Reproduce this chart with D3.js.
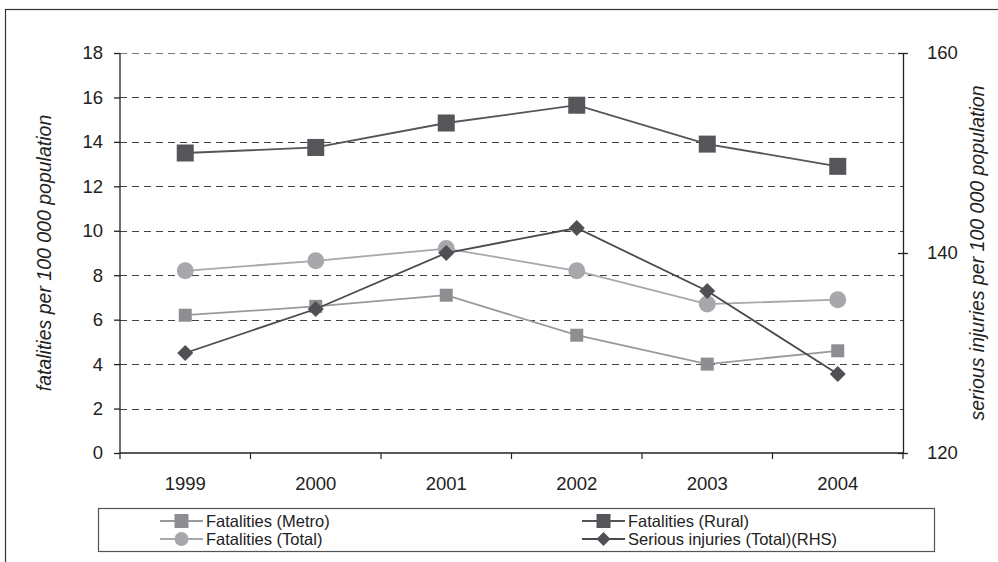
<!DOCTYPE html>
<html>
<head>
<meta charset="utf-8">
<script src="https://cdn.jsdelivr.net/npm/d3@7"></script>
<style>
  body { margin: 0; background: #fff; }
  svg { display: block; font-family: "Liberation Sans", Arial, sans-serif; }
</style>
</head>
<body>
<svg id="chart" width="998" height="562"></svg>
<script>
const years = ["1999", "2000", "2001", "2002", "2003", "2004"];
const fatalitiesMetro = [6.2, 6.6, 7.1, 5.3, 4.0, 4.6];
const fatalitiesRural = [13.5, 13.75, 14.85, 15.65, 13.9, 12.9];
const fatalitiesTotal = [8.2, 8.65, 9.2, 8.2, 6.7, 6.9];
const seriousInjuries = [130.0, 134.4, 140.0, 142.5, 136.2, 127.9];
const leftTicks = [0, 2, 4, 6, 8, 10, 12, 14, 16, 18];
const rightTicks = [120, 140, 160];

const svg = d3.select("#chart");
const L = 120, R = 903, T = 53, B = 453;
const FS = 18.5;

// outer frame
svg.append("rect").attr("x", 5.5).attr("y", 9.5).attr("width", 1000).attr("height", 600)
  .attr("fill", "none").attr("stroke", "#333").attr("stroke-width", 1.2);

const x = d3.scaleBand().domain(years).range([L, R]);
const yL = d3.scaleLinear().domain([0, 18]).range([B, T]);
const yR = d3.scaleLinear().domain([120, 160]).range([B, T]);

// gridlines
svg.append("g").selectAll("line").data(leftTicks.filter(d => d > 0)).join("line")
  .attr("x1", L).attr("x2", R)
  .attr("y1", d => Math.round(yL(d)) + 0.5).attr("y2", d => Math.round(yL(d)) + 0.5)
  .attr("stroke", d => d === 18 ? "#777" : "#444").attr("stroke-width", 1.2)
  .attr("stroke-dasharray", "7,5");

// left axis
const gL = svg.append("g").attr("transform", `translate(${L},0)`)
  .call(d3.axisLeft(yL).tickValues(leftTicks).tickSize(6).tickPadding(11).tickFormat(d3.format("d")));
gL.selectAll("path,line").attr("stroke", "#222").attr("stroke-width", 1.3);
gL.select(".domain").attr("d", `M0,${T}V${B}`);
gL.selectAll("text").attr("font-size", FS).attr("fill", "#222").attr("font-family", "Liberation Sans, Arial, sans-serif");

// right axis
const gR = svg.append("g").attr("transform", `translate(${R},0)`)
  .call(d3.axisRight(yR).tickValues(rightTicks).tickSizeInner(5).tickSizeOuter(0).tickPadding(19).tickFormat(d3.format("d")));
gR.selectAll("path,line").attr("stroke", "#222").attr("stroke-width", 1.3);
gR.selectAll(".tick line").attr("x1", -5).attr("x2", 5);
gR.selectAll("text").attr("font-size", FS).attr("fill", "#222").attr("font-family", "Liberation Sans, Arial, sans-serif");

// bottom axis
const gB = svg.append("g").attr("transform", `translate(0,${B})`);
gB.append("line").attr("x1", L).attr("x2", R).attr("y1", 0).attr("y2", 0).attr("stroke", "#222").attr("stroke-width", 1.5);
gB.selectAll(".bt").data(years).join("line").attr("class", "bt")
  .attr("x1", d => x(d)).attr("x2", d => x(d)).attr("y1", 0).attr("y2", 6)
  .attr("stroke", "#222").attr("stroke-width", 1.2);
gB.append("line").attr("x1", R).attr("x2", R).attr("y1", 0).attr("y2", 6).attr("stroke", "#222").attr("stroke-width", 1.2);
gB.selectAll("text").data(years).join("text")
  .attr("x", d => x(d) + x.bandwidth() / 2).attr("y", 37)
  .attr("text-anchor", "middle").attr("font-size", FS).attr("fill", "#222").text(d => d);

// axis titles
svg.append("text").attr("transform", `translate(51,${(T + B) / 2}) rotate(-90)`)
  .attr("text-anchor", "middle").attr("font-size", 19.5).attr("font-style", "italic").attr("fill", "#222")
  .text("fatalities per 100 000 population");
svg.append("text").attr("transform", `translate(984,${(T + B) / 2}) rotate(-90)`)
  .attr("text-anchor", "middle").attr("font-size", 19.5).attr("font-style", "italic").attr("fill", "#222")
  .text("serious injuries per 100 000 population");

const cx = d => x(d) + x.bandwidth() / 2;

const series = [
  { name: "Fatalities (Metro)", values: fatalitiesMetro, scale: yL, line: "#9a9a9e", fill: "#8e8e92", shape: "square", size: 13 },
  { name: "Fatalities (Rural)", values: fatalitiesRural, scale: yL, line: "#555558", fill: "#55555a", shape: "square", size: 17 },
  { name: "Fatalities (Total)", values: fatalitiesTotal, scale: yL, line: "#a8a8ac", fill: "#a8a8ac", shape: "circle", size: 17 },
  { name: "Serious injuries (Total)(RHS)", values: seriousInjuries, scale: yR, line: "#4a4a4e", fill: "#505054", shape: "diamond", size: 16 }
];

function drawMarker(g, s, px, py, size) {
  if (s.shape === "square") {
    g.append("rect").attr("x", px - size / 2).attr("y", py - size / 2).attr("width", size).attr("height", size).attr("fill", s.fill);
  } else if (s.shape === "circle") {
    g.append("circle").attr("cx", px).attr("cy", py).attr("r", size / 2).attr("fill", s.fill);
  } else {
    const h = size / 2;
    g.append("path").attr("d", `M${px},${py - h}L${px + h},${py}L${px},${py + h}L${px - h},${py}Z`).attr("fill", s.fill);
  }
}

const drawOrder = [2, 0, 1, 3];
drawOrder.forEach(i => {
  const s = series[i];
  const g = svg.append("g");
  const line = d3.line().x((d, j) => cx(years[j])).y(d => s.scale(d));
  g.append("path").attr("d", line(s.values)).attr("fill", "none").attr("stroke", s.line).attr("stroke-width", 1.8);
  s.values.forEach((v, j) => drawMarker(g, s, cx(years[j]), s.scale(v), s.size));
});

// legend
const lg = svg.append("g");
lg.append("rect").attr("x", 98.5).attr("y", 508.5).attr("width", 836).attr("height", 43)
  .attr("fill", "#fff").attr("stroke", "#555").attr("stroke-width", 1.2);
const legendPos = [
  { s: 0, x: 160, y: 521 }, { s: 1, x: 582, y: 521 },
  { s: 2, x: 160, y: 539 }, { s: 3, x: 582, y: 539 }
];
legendPos.forEach(p => {
  const s = series[p.s];
  lg.append("line").attr("x1", p.x).attr("x2", p.x + 43).attr("y1", p.y).attr("y2", p.y)
    .attr("stroke", s.line).attr("stroke-width", 1.8);
  drawMarker(lg, s, p.x + 21.5, p.y, 14);
  lg.append("text").attr("x", p.x + 46).attr("y", p.y).attr("dy", "0.36em")
    .attr("font-size", 16.5).attr("fill", "#222").text(s.name);
});
</script>
</body>
</html>
